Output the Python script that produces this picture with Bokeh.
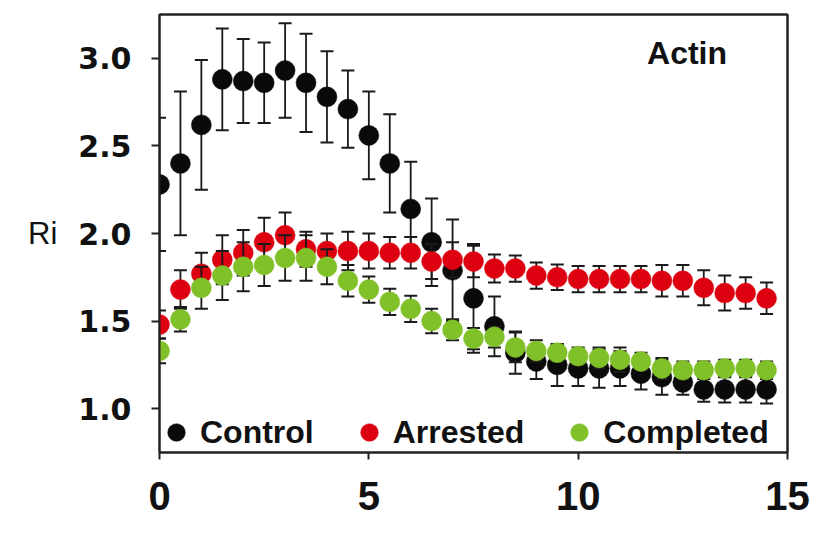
from bokeh.plotting import figure
from bokeh.models import (ColumnDataSource, Range1d, FixedTicker, Legend, LegendItem, Label, LinearAxis)
from bokeh.embed import file_html
from bokeh.resources import INLINE

# ---- data ----
times = [0, 0.5, 1, 1.5, 2, 2.5, 3, 3.5, 4, 4.5, 5, 5.5, 6, 6.5, 7,
         7.5, 8, 8.5, 9, 9.5, 10, 10.5, 11, 11.5, 12, 12.5, 13, 13.5, 14, 14.5]

control = [2.28, 2.40, 2.62, 2.88, 2.87, 2.86, 2.93, 2.86, 2.78, 2.71, 2.56, 2.40, 2.14, 1.95, 1.79,
           1.63, 1.47, 1.32, 1.27, 1.25, 1.23, 1.23, 1.23, 1.20, 1.18, 1.15, 1.11, 1.11, 1.11, 1.11]
control_err = [0.38, 0.41, 0.37, 0.29, 0.24, 0.23, 0.27, 0.28, 0.26, 0.22, 0.25, 0.28, 0.27, 0.25, 0.29,
               0.31, 0.17, 0.12, 0.10, 0.12, 0.10, 0.11, 0.10, 0.09, 0.10, 0.07, 0.07, 0.075, 0.075, 0.08]

arrested = [1.48, 1.68, 1.77, 1.85, 1.89, 1.95, 1.99, 1.91, 1.90, 1.90, 1.90, 1.89, 1.89, 1.84, 1.85,
            1.84, 1.80, 1.80, 1.76, 1.75, 1.74, 1.74, 1.74, 1.74, 1.73, 1.73, 1.69, 1.66, 1.66, 1.63]
arrested_err = [0.08, 0.11, 0.12, 0.14, 0.13, 0.14, 0.13, 0.10, 0.10, 0.11, 0.10, 0.09, 0.09, 0.10, 0.10,
                0.09, 0.08, 0.075, 0.075, 0.073, 0.075, 0.075, 0.075, 0.075, 0.09, 0.09, 0.10, 0.10, 0.09, 0.09]

completed = [1.33, 1.51, 1.69, 1.76, 1.81, 1.82, 1.86, 1.86, 1.81, 1.73, 1.68, 1.61, 1.57, 1.50, 1.45,
             1.40, 1.41, 1.35, 1.33, 1.32, 1.30, 1.29, 1.28, 1.27, 1.23, 1.22, 1.22, 1.23, 1.23, 1.22]
completed_err = [0.07, 0.07, 0.12, 0.14, 0.14, 0.12, 0.13, 0.13, 0.10, 0.09, 0.075, 0.075, 0.075, 0.07, 0.06,
                 0.06, 0.06, 0.085, 0.06, 0.05, 0.05, 0.06, 0.07, 0.05, 0.06, 0.05, 0.05, 0.05, 0.05, 0.05]

series_names = ["Control", "Arrested", "Completed"]
series_colors = ["#0a0a0a", "#dc0010", "#80c028"]

x_ticks = [0, 5, 10, 15]
y_ticks = [1.0, 1.5, 2.0, 2.5, 3.0]
y_tick_labels = ["1.0", "1.5", "2.0", "2.5", "3.0"]
y_label = "Ri"
panel_title = "Actin"

X_MIN, X_MAX = 0, 15
Y_MIN, Y_MAX = 0.75, 3.25

# ---- figure ----
p = figure(width=815, height=535, output_backend="svg", toolbar_location=None,
           x_range=Range1d(X_MIN, X_MAX), y_range=Range1d(Y_MIN, Y_MAX),
           min_border_left=159, min_border_right=28, min_border_top=14, min_border_bottom=83)
p.background_fill_color = "white"
p.border_fill_color = "white"
p.grid.visible = False
p.outline_line_color = "#222222"
p.outline_line_width = 2
p.outline_line_alpha = 1.0

# top and right frame borders drawn as tick-less axes
top_axis = LinearAxis(ticker=FixedTicker(ticks=x_ticks), axis_line_color="#222222", axis_line_width=2,
                      major_tick_out=0, major_tick_in=0, minor_tick_out=0, minor_tick_in=0,
                      major_tick_line_color=None, minor_tick_line_color=None,
                      major_label_text_color=None, major_label_text_font_size="1px",
                      major_label_standoff=0)
right_axis = LinearAxis(ticker=FixedTicker(ticks=y_ticks), axis_line_color="#222222", axis_line_width=2,
                        major_tick_out=0, major_tick_in=0, minor_tick_out=0, minor_tick_in=0,
                        major_tick_line_color=None, minor_tick_line_color=None,
                        major_label_text_color=None, major_label_text_font_size="1px",
                        major_label_standoff=0)
p.add_layout(top_axis, "above")
p.add_layout(right_axis, "right")

xa = p.below[0]
ya = p.left[0]
for ax in (xa, ya):
    ax.axis_line_color = "#222222"
    ax.axis_line_width = 2
    ax.major_tick_line_color = "#222222"
    ax.major_tick_line_width = 2
    ax.major_tick_in = 0
    ax.minor_tick_line_color = None
    ax.major_label_text_color = "#111111"

xa.ticker = FixedTicker(ticks=x_ticks)
xa.major_tick_out = 7
xa.major_label_standoff = 22
xa.major_label_text_font = "Liberation Sans"
xa.major_label_text_font_style = "bold"
xa.major_label_text_font_size = "40px"

ya.ticker = FixedTicker(ticks=y_ticks)
ya.major_label_overrides = {t: s for t, s in zip(y_ticks, y_tick_labels)}
ya.major_tick_out = 8
ya.major_label_standoff = 20
ya.major_label_text_font = "DejaVu Sans"
ya.major_label_text_font_style = "bold"
ya.major_label_text_font_size = "30px"
ya.axis_label = y_label
ya.axis_label_orientation = "horizontal"
ya.axis_label_text_font = "Liberation Sans"
ya.axis_label_text_font_style = "normal"
ya.axis_label_text_font_size = "31px"
ya.axis_label_text_color = "#111111"
ya.axis_label_standoff = 18

# ---- series ----
items = []
for name, color, vals, errs in zip(series_names, series_colors,
                                   [control, arrested, completed],
                                   [control_err, arrested_err, completed_err]):
    src = ColumnDataSource(dict(
        x=times, y=vals,
        upper=[v + e for v, e in zip(vals, errs)],
        lower=[v - e for v, e in zip(vals, errs)],
    ))
    p.segment(x0="x", y0="lower", x1="x", y1="upper", source=src,
              line_color="#1a1a1a", line_width=1.8)
    p.scatter(x="x", y="upper", source=src, marker="dash", size=13,
              line_color="#1a1a1a", line_width=2)
    p.scatter(x="x", y="lower", source=src, marker="dash", size=13,
              line_color="#1a1a1a", line_width=2)
    r = p.scatter(x="x", y="y", source=src, marker="circle", size=20,
                  fill_color=color, line_color=color, line_width=0.5)
    items.append(LegendItem(label=name, renderers=[r]))

legend = Legend(items=items, orientation="horizontal", location=(-5, -2),
                glyph_width=44, glyph_height=44, label_standoff=2, spacing=33,
                padding=0, margin=0, border_line_alpha=0, background_fill_alpha=0,
                label_text_font="Liberation Sans", label_text_font_style="bold",
                label_text_font_size="32px", label_text_color="#111111")
p.add_layout(legend)

p.add_layout(Label(x=12.6, y=3.03, text=panel_title, text_align="center",
                   text_baseline="alphabetic", text_font="Liberation Sans",
                   text_font_style="bold", text_font_size="32px", text_color="#111111"))

open("out.html", "w").write(file_html(p, INLINE))
